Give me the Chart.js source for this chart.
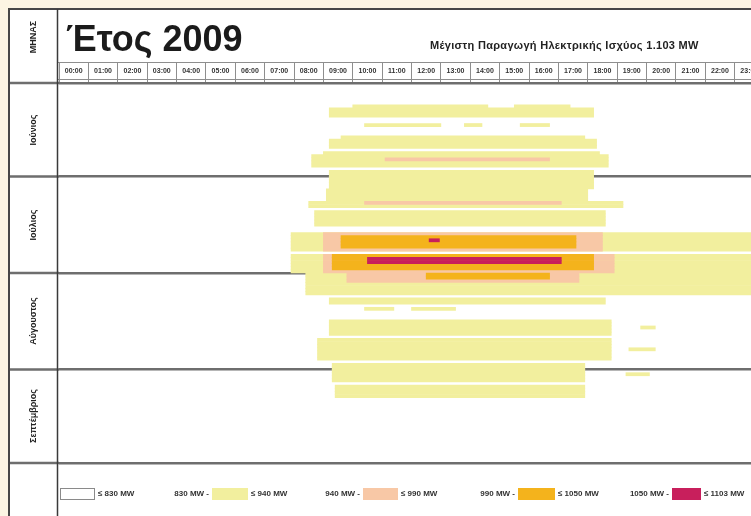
<!DOCTYPE html>
<html>
<head>
<meta charset="utf-8">
<script src="https://cdn.jsdelivr.net/npm/chart.js@4.4.0/dist/chart.umd.min.js"></script>
<style>
  html, body { margin:0; padding:0; }
  body { width:751px; height:516px; overflow:hidden; background:#fcf5e3; position:relative;
         font-family:"Liberation Sans", Arial, sans-serif; }
  #heat { position:absolute; left:0; top:0; }
  .txt { position:absolute; font-weight:bold; color:#222; white-space:nowrap; }
  .vert { transform:translate(-50%,-50%) rotate(-90deg); font-size:9px; line-height:11px; }
  #title { left:66px; top:19px; font-size:36px; line-height:40px; color:#1b1b1b; }
  #subtitle { left:430px; top:39px; font-size:11px; line-height:12px; letter-spacing:0.3px;
              font-family:"Liberation Sans Narrow", "Liberation Sans", Arial, sans-serif; }
  .lg-box { position:absolute; top:488px; height:12px; border:1px solid #9a9a9a; box-sizing:border-box; }
  .lg-txt { position:absolute; top:489px; font-size:8px; line-height:10px; font-weight:bold; color:#333;
            font-family:"Liberation Sans Narrow", "Liberation Sans", Arial, sans-serif; white-space:nowrap; }
</style>
</head>
<body>
<canvas id="heat" width="790" height="516"></canvas>
<div class="txt vert" style="left:33px; top:37px;">ΜΗΝΑΣ</div>
<div class="txt" id="title">Έτος 2009</div>
<div class="txt" id="subtitle">Μέγιστη Παραγωγή Ηλεκτρικής Ισχύος 1.103 MW</div>
<div id="legend"></div>
<script>
const months = ["Ιούνιος", "Ιούλιος", "Αύγουστος", "Σεπτέμβριος"];
const monthDays = [30, 31, 31, 30];
const hours = ["00:00","01:00","02:00","03:00","04:00","05:00","06:00","07:00","08:00","09:00","10:00","11:00",
               "12:00","13:00","14:00","15:00","16:00","17:00","18:00","19:00","20:00","21:00","22:00","23:00"];

// bands: [first day, last day, start hour, end hour]  (day 0 = 1 June)
const yellowBands = [
  [7, 7, 10.0, 14.6], [7, 7, 15.5, 17.4], [8, 10, 9.2, 18.2],
  [13, 13, 10.4, 13.0], [13, 13, 13.8, 14.4], [13, 13, 15.7, 16.7],
  [17, 17, 9.6, 17.9], [18, 20, 9.2, 18.3],
  [22, 22, 9.0, 18.4], [23, 26, 8.6, 18.7],
  [28, 33, 9.2, 18.2],
  [34, 37, 9.1, 18.0], [38, 39, 8.5, 19.2],
  [41, 45, 8.7, 18.6],
  [48, 53, 7.9, 24], [55, 60, 7.9, 24], [61, 67, 8.4, 24],
  [69, 70, 9.2, 18.6],
  [72, 72, 10.4, 11.4], [72, 72, 12.0, 13.5],
  [76, 80, 9.2, 18.8], [78, 78, 19.8, 20.3],
  [82, 88, 8.8, 18.8], [85, 85, 19.4, 20.3],
  [90, 95, 9.3, 17.9], [93, 93, 19.3, 20.1],
  [97, 100, 9.4, 17.9]
];
const peachBands = [
  [24, 24, 11.1, 16.7], [38, 38, 10.4, 17.1],
  [48, 53, 9.0, 18.5], [55, 60, 9.0, 18.9], [61, 63, 9.8, 17.7]
];
const orangeBands = [
  [49, 52, 9.6, 17.6], [55, 59, 9.3, 18.2], [61, 62, 12.5, 16.7]
];
const crimsonBands = [
  [50, 50, 12.6, 12.95], [56, 57, 10.5, 17.1]
];

const legendFrom = [null, "830 MW -", "940 MW -", "990 MW -", "1050 MW -"];
const legendTo = ["≤ 830 MW", "≤ 940 MW", "≤ 990 MW", "≤ 1050 MW", "≤ 1103 MW"];
const levelColors = ["#ffffff", "#f2ef9e", "#f8c8a6", "#f4b31c", "#c81f5c"];

// day categories
const dayLabels = [];
months.forEach((m, i) => {
  for (let d = 1; d <= monthDays[i]; d++) dayLabels.push(d + "/" + (6 + i));
});
const monthStarts = [0];
monthDays.forEach(n => monthStarts.push(monthStarts[monthStarts.length - 1] + n));

const levels = [
  { bands: crimsonBands, color: levelColors[4] },
  { bands: orangeBands, color: levelColors[3] },
  { bands: peachBands, color: levelColors[2] },
  { bands: yellowBands, color: levelColors[1] }
];

const datasets = [];
levels.forEach(lv => {
  lv.bands.forEach(b => {
    datasets.push({
      data: dayLabels.map((_, d) => (d >= b[0] && d <= b[1]) ? [b[2], b[3]] : null),
      backgroundColor: lv.color,
      borderWidth: 0,
      barPercentage: 1,
      categoryPercentage: 1,
      grouped: false
    });
  });
});

const framePlugin = {
  id: 'frame',
  beforeDraw(chart) {
    const c = chart.ctx;
    c.save();
    c.fillStyle = '#ffffff';
    c.fillRect(9, 10, 790, 520);
    c.strokeStyle = '#8e8e8e';
    c.lineWidth = 1;
    c.beginPath();
    c.moveTo(58, 62.5); c.lineTo(790, 62.5);
    c.moveTo(58, 79.5); c.lineTo(790, 79.5);
    c.stroke();
    c.restore();
  },
  afterDraw(chart) {
    const c = chart.ctx;
    const ym = chart.scales.yMonth;
    c.save();
    c.strokeStyle = '#6e6e6e';
    c.lineWidth = 2.5;
    c.beginPath();
    monthStarts.forEach(v => {
      const y = ym.getPixelForValue(v);
      c.moveTo(8, y); c.lineTo(chart.chartArea.left, y);
    });
    c.stroke();
    c.strokeStyle = '#474747';
    c.lineWidth = 2;
    c.beginPath();
    c.moveTo(8, 9); c.lineTo(790, 9);
    c.moveTo(9, 9); c.lineTo(9, 516);
    c.stroke();
    c.strokeStyle = '#3a3a3a';
    c.lineWidth = 1.5;
    c.beginPath();
    c.moveTo(57.5, 9); c.lineTo(57.5, 516);
    c.stroke();
    c.restore();
  }
};

const chart = new Chart(document.getElementById('heat'), {
  type: 'bar',
  data: { labels: dayLabels, datasets: datasets },
  plugins: [framePlugin],
  options: {
    indexAxis: 'y',
    responsive: false,
    animation: false,
    devicePixelRatio: 1,
    layout: { padding: { left: 59, right: 26, top: 63, bottom: 53 } },
    plugins: { legend: { display: false }, tooltip: { enabled: false } },
    scales: {
      x: { type: 'linear', min: 0, max: 24, display: false },
      xTop: {
        type: 'category',
        labels: hours,
        position: 'top',
        offset: true,
        grid: { offset: true, drawOnChartArea: false, tickLength: 20, color: '#8e8e8e', lineWidth: 1 },
        border: { display: false },
        ticks: {
          color: '#333',
          padding: -12,
          autoSkip: false,
          maxRotation: 0,
          font: { family: '"Liberation Sans Narrow", "Liberation Sans", Arial', size: 7, weight: 'bold' }
        },
        afterFit(s) { s.height = 20; }
      },
      y: { type: 'category', display: false, offset: true },
      yMonth: {
        type: 'linear',
        position: 'left',
        min: 0,
        max: 122,
        reverse: true,
        offset: false,
        grid: { offset: false, color: '#6e6e6e', lineWidth: 2.5, drawTicks: false },
        border: { display: false },
        ticks: { display: false },
        afterBuildTicks(s) { s.ticks = monthStarts.map(v => ({ value: v })); },
        afterFit(s) { s.width = 0; }
      }
    }
  }
});

// month names, centred on their rows
const ym = chart.scales.yMonth;
months.forEach((m, i) => {
  const el = document.createElement('div');
  el.className = 'txt vert';
  el.textContent = m;
  el.style.left = '33px';
  el.style.top = ym.getPixelForValue((monthStarts[i] + monthStarts[i + 1]) / 2) + 'px';
  document.body.appendChild(el);
});

// legend
const boxLeft = [60, 212, 363, 518, 672];
const boxWidth = [35, 36, 35, 37, 29];
const lg = document.getElementById('legend');
legendTo.forEach((t, i) => {
  const box = document.createElement('div');
  box.className = 'lg-box';
  box.style.left = boxLeft[i] + 'px';
  box.style.width = boxWidth[i] + 'px';
  box.style.background = levelColors[i];
  box.style.borderColor = i === 0 ? '#8a8a8a' : levelColors[i];
  lg.appendChild(box);
  const after = document.createElement('div');
  after.className = 'lg-txt';
  after.textContent = t;
  after.style.left = (boxLeft[i] + boxWidth[i] + 3) + 'px';
  lg.appendChild(after);
  if (legendFrom[i]) {
    const before = document.createElement('div');
    before.className = 'lg-txt';
    before.textContent = legendFrom[i];
    before.style.right = (751 - boxLeft[i] + 3) + 'px';
    lg.appendChild(before);
  }
});
</script>
</body>
</html>
